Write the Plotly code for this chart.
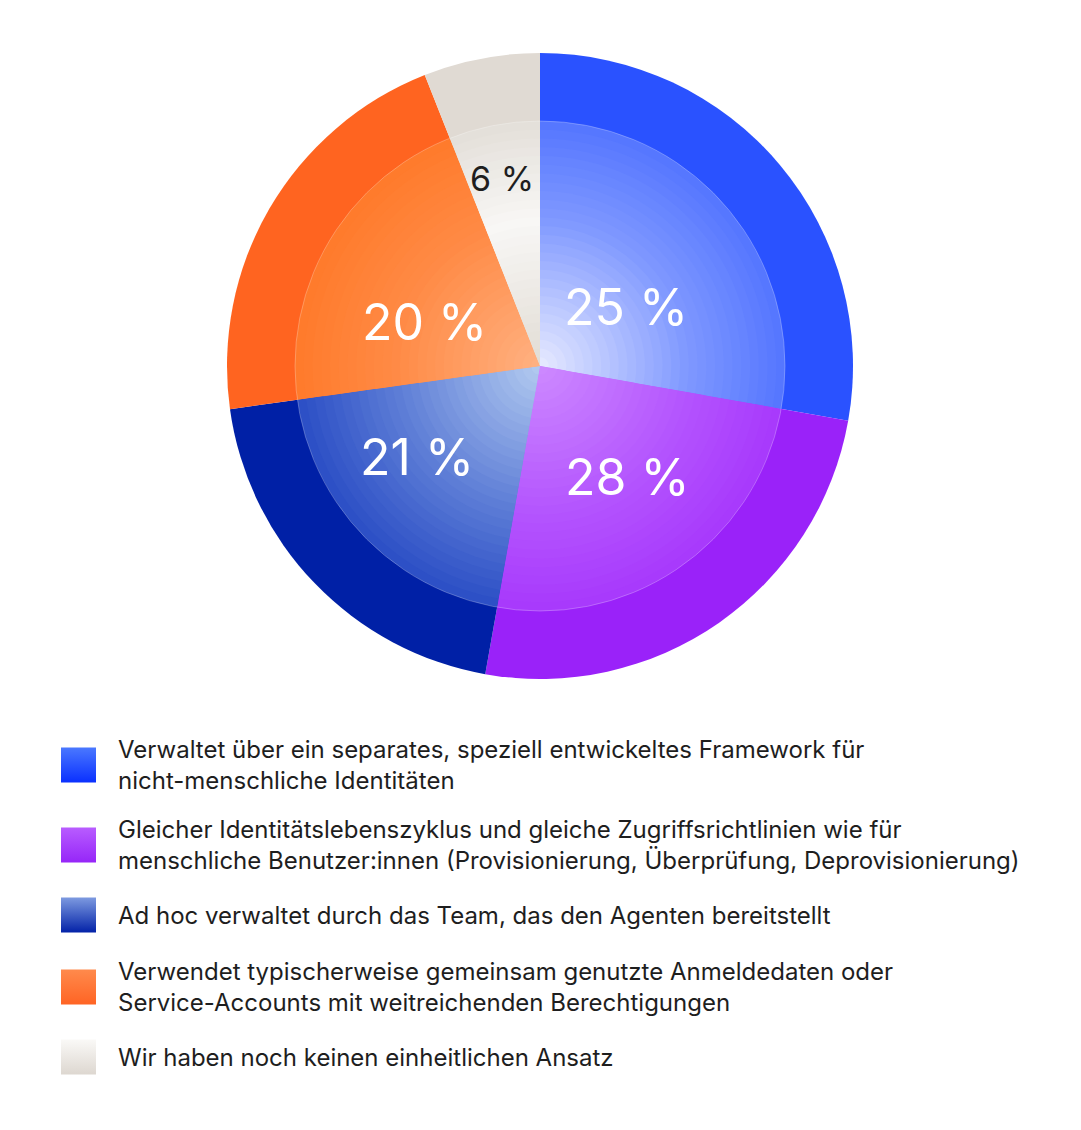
import plotly.graph_objects as go

# Dados (fatias medidas pela geometria; os rótulos impressos vêm separados)
categorias = [
    'Verwaltet über ein separates, speziell entwickeltes Framework für<br>nicht-menschliche Identitäten',
    'Gleicher Identitätslebenszyklus und gleiche Zugriffsrichtlinien wie für<br>menschliche Benutzer:innen (Provisionierung, Überprüfung, Deprovisionierung)',
    'Ad hoc verwaltet durch das Team, das den Agenten bereitstellt',
    'Verwendet typischerweise gemeinsam genutzte Anmeldedaten oder<br>Service-Accounts mit weitreichenden Berechtigungen',
    'Wir haben noch keinen einheitlichen Ansatz',
]
valores = [27.8, 25, 20, 21.2, 6]
rotulos = ['25 %', '28 %', '21 %', '20 %', '6 %']

# Cores: anel externo e três paradas do degradê do disco interno (borda, meio, centro)
cor_externa = ['#2a52ff', '#9a22f9', '#0020a6', '#ff6420', '#e0dad3']
cor_borda = ['#5677ff', '#a83afc', '#2d50c6', '#ff7b2c', '#e4e0da']
cor_meio = ['#8099ff', '#b455fe', '#5c7cd6', '#ff8a45', '#f8f7f5']
cor_centro = ['#e4e8ff', '#cc88ff', '#b0c8ef', '#ffb080', '#e2ddd5']
cor_texto = ['white', 'white', 'white', 'white', '#1e1e1e']
tam_texto = [50, 50, 50, 50, 34]
# quadradinhos da legenda (topo -> base)
leg_topo = ['#4a78ff', '#b85cff', '#7d9ae0', '#ff8a4c', '#faf9f7']
leg_base = ['#0a30ff', '#9626f8', '#0322a8', '#ff6424', '#ddd7d0']

W, H = 1081, 1130
off = 8               # margem padrão do <body> na página
cx, cy = 540 - off, 366 - off     # centro da pizza em px
R, R_in = 313, 245    # raio externo e do disco interno
t_meio = 0.4          # posição da parada do meio (0 = borda, 1 = centro)


def dominio(r):
    return dict(x=[(cx - r) / W, (cx + r) / W], y=[(H - cy - r) / H, (H - cy + r) / H])


def mistura(c1, c2, t):
    a = [int(c1[i:i + 2], 16) for i in (1, 3, 5)]
    b = [int(c2[i:i + 2], 16) for i in (1, 3, 5)]
    return 'rgb(%d,%d,%d)' % tuple(round(a[k] + (b[k] - a[k]) * t) for k in range(3))


def degrade(i, t):
    if t < t_meio:
        return mistura(cor_borda[i], cor_meio[i], t / t_meio)
    return mistura(cor_meio[i], cor_centro[i], (t - t_meio) / (1 - t_meio))


fig = go.Figure()

# anel externo
fig.add_trace(go.Pie(values=valores, labels=categorias, sort=False, direction='clockwise',
                     marker=dict(colors=cor_externa), textinfo='none', hoverinfo='skip',
                     showlegend=False, domain=dominio(R)))

# disco interno em degradê radial (várias pizzas concêntricas)
n = 28
for k in range(n):
    t = k / (n - 1)
    r = R_in * (1 - k / n)
    fig.add_trace(go.Pie(values=valores, labels=categorias, sort=False, direction='clockwise',
                         marker=dict(colors=[degrade(i, t) for i in range(5)]),
                         textinfo='none', hoverinfo='skip', showlegend=False, domain=dominio(r)))

# contorno sutil do disco interno
fig.add_shape(type='circle', xref='paper', yref='paper',
              x0=(cx - R_in) / W, x1=(cx + R_in) / W,
              y0=(H - cy - R_in) / H, y1=(H - cy + R_in) / H,
              line=dict(color='rgba(255,255,255,0.25)', width=1))

# rótulos percentuais (deslocamento a partir do centro, em px)
desloc = [(86, -59), (87, 111), (-123, 91), (-116, -44), (-38, -188)]
for i, txt in enumerate(rotulos):
    dx, dy = desloc[i]
    fig.add_annotation(x=(cx + dx) / W, y=1 - (cy + dy) / H, xref='paper', yref='paper',
                       text=txt, showarrow=False, xanchor='center', yanchor='middle',
                       font=dict(family='Inter', size=tam_texto[i], color=cor_texto[i]))

# legenda manual
y_leg = [765, 845, 915, 987, 1057]
for i, cat in enumerate(categorias):
    fig.add_trace(go.Scatter(x=[78.5 - off], y=[y_leg[i] - off], mode='markers', hoverinfo='skip',
                             showlegend=False,
                             marker=dict(symbol='square', size=35, color=leg_topo[i], line=dict(width=0),
                                         gradient=dict(type='vertical', color=leg_base[i]))))
    fig.add_annotation(x=(116 - off) / W, y=1 - (y_leg[i] - off) / H, xref='paper', yref='paper', text=cat,
                       showarrow=False, xanchor='left', yanchor='middle', align='left',
                       font=dict(family='Inter', size=24, color='#1e1e1e'))

fig.update_layout(
    width=W, height=H,
    margin=dict(l=0, r=0, t=0, b=0),
    paper_bgcolor='white', plot_bgcolor='rgba(0,0,0,0)',
    xaxis=dict(range=[0, W], visible=False, domain=[0, 1]),
    yaxis=dict(range=[H, 0], visible=False, domain=[0, 1]),
)

fig.write_html('out.html')
